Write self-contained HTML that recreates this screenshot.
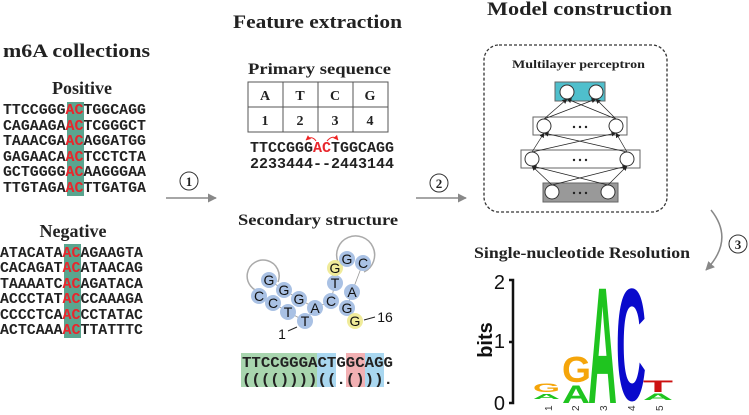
<!DOCTYPE html>
<html><head><meta charset="utf-8"><style>
html,body{margin:0;padding:0;background:#fff;overflow:hidden;width:749px;height:415px}
svg{display:block}
.ti{font-family:"Liberation Serif",serif;font-weight:bold;fill:#222}
.mono{font-family:"Liberation Mono",monospace;font-weight:bold;fill:#222}
.nd{fill:#a9c1e4}
.nl{font-family:"Liberation Sans",sans-serif;font-size:14px;fill:#111;text-anchor:middle}
</style></head><body>
<svg width="749" height="415" viewBox="0 0 749 415" xmlns="http://www.w3.org/2000/svg" overflow="hidden">
<defs>
<marker id="ah" viewBox="0 0 10 10" refX="9" refY="5" markerWidth="9" markerHeight="9" markerUnits="userSpaceOnUse" orient="auto"><path d="M0,0 L10,5 L0,10 z" fill="#888"/></marker>
<marker id="sa" viewBox="0 0 10 10" refX="9" refY="5" markerWidth="5" markerHeight="5" markerUnits="userSpaceOnUse" orient="auto"><path d="M0,0 L10,5 L0,10 z" fill="#222"/></marker>
<marker id="ra" viewBox="0 0 10 10" refX="9" refY="5" markerWidth="5" markerHeight="5" markerUnits="userSpaceOnUse" orient="auto"><path d="M0,0 L10,5 L0,10 z" fill="#e22"/></marker>
</defs>

<text class="ti" x="3" y="57" font-size="19" textLength="147" lengthAdjust="spacingAndGlyphs">m6A collections</text>
<text class="ti" x="233" y="28" font-size="19" textLength="169" lengthAdjust="spacingAndGlyphs">Feature extraction</text>
<text class="ti" x="487" y="15" font-size="19" textLength="185" lengthAdjust="spacingAndGlyphs">Model construction</text>
<text class="ti" x="82" y="94" font-size="18" text-anchor="middle">Positive</text>
<text class="ti" x="73" y="237" font-size="18" text-anchor="middle">Negative</text>
<text class="ti" x="248" y="74" font-size="16" textLength="143" lengthAdjust="spacingAndGlyphs">Primary sequence</text>
<text class="ti" x="238" y="225" font-size="16" textLength="160" lengthAdjust="spacingAndGlyphs">Secondary structure</text>
<text class="ti" x="474" y="258" font-size="16" textLength="216" lengthAdjust="spacingAndGlyphs">Single-nucleotide Resolution</text>

<rect x="67" y="102" width="17" height="94" fill="#5aa58f"/>
<rect x="64" y="244" width="17" height="94" fill="#5aa58f"/>
<g class="mono" font-size="15">
<text x="3" y="114" textLength="143" lengthAdjust="spacingAndGlyphs">TTCCGGG<tspan fill="#e8262c">AC</tspan>TGGCAGG</text>
<text x="3" y="130" textLength="143" lengthAdjust="spacingAndGlyphs">CAGAAGA<tspan fill="#e8262c">AC</tspan>TCGGGCT</text>
<text x="3" y="145" textLength="143" lengthAdjust="spacingAndGlyphs">TAAACGA<tspan fill="#e8262c">AC</tspan>AGGATGG</text>
<text x="3" y="161" textLength="143" lengthAdjust="spacingAndGlyphs">GAGAACA<tspan fill="#e8262c">AC</tspan>TCCTCTA</text>
<text x="3" y="176" textLength="143" lengthAdjust="spacingAndGlyphs">GCTGGGG<tspan fill="#e8262c">AC</tspan>AAGGGAA</text>
<text x="3" y="192" textLength="143" lengthAdjust="spacingAndGlyphs">TTGTAGA<tspan fill="#e8262c">AC</tspan>TTGATGA</text>
<text x="0" y="257" textLength="143" lengthAdjust="spacingAndGlyphs">ATACATA<tspan fill="#e8262c">AC</tspan>AGAAGTA</text>
<text x="0" y="272" textLength="143" lengthAdjust="spacingAndGlyphs">CACAGAT<tspan fill="#e8262c">AC</tspan>ATAACAG</text>
<text x="0" y="288" textLength="143" lengthAdjust="spacingAndGlyphs">TAAAATC<tspan fill="#e8262c">AC</tspan>AGATACA</text>
<text x="0" y="303" textLength="143" lengthAdjust="spacingAndGlyphs">ACCCTAT<tspan fill="#e8262c">AC</tspan>CCAAAGA</text>
<text x="0" y="319" textLength="143" lengthAdjust="spacingAndGlyphs">CCCCTCA<tspan fill="#e8262c">AC</tspan>CCTATAC</text>
<text x="0" y="334" textLength="143" lengthAdjust="spacingAndGlyphs">ACTCAAA<tspan fill="#e8262c">AC</tspan>TTATTTC</text>
</g>

<line x1="166" y1="198" x2="216" y2="198" stroke="#888" stroke-width="1.5" marker-end="url(#ah)"/>
<circle cx="189" cy="181" r="9" fill="#fff" stroke="#333"/>
<text class="ti" x="189" y="186" font-size="13" text-anchor="middle">1</text>
<line x1="416" y1="198" x2="466" y2="198" stroke="#888" stroke-width="1.5" marker-end="url(#ah)"/>
<circle cx="439" cy="183" r="9" fill="#fff" stroke="#333"/>
<text class="ti" x="439" y="188" font-size="13" text-anchor="middle">2</text>
<path d="M711,210 Q735,240 706,270" fill="none" stroke="#888" stroke-width="1.5" marker-end="url(#ah)"/>
<circle cx="738" cy="244" r="9" fill="#fff" stroke="#333"/>
<text class="ti" x="738" y="249" font-size="13" text-anchor="middle">3</text>

<g stroke="#555" fill="none" stroke-width="1">
<rect x="248" y="82" width="140" height="50"/>
<line x1="248" y1="107" x2="388" y2="107"/>
<line x1="283" y1="82" x2="283" y2="132"/><line x1="318" y1="82" x2="318" y2="132"/><line x1="353" y1="82" x2="353" y2="132"/>
</g>
<g class="ti" font-size="14" text-anchor="middle">
<text x="265" y="100">A</text><text x="300" y="100">T</text><text x="335" y="100">C</text><text x="370" y="100">G</text>
<text x="265" y="125">1</text><text x="300" y="125">2</text><text x="335" y="125">3</text><text x="370" y="125">4</text>
</g>
<path d="M316,141 Q312,135 306,140" fill="none" stroke="#e22" marker-end="url(#ra)"/>
<path d="M327,141 Q333,134 338,140" fill="none" stroke="#e22" marker-end="url(#ra)"/>
<g class="mono" font-size="15">
<text x="250" y="152" textLength="144" lengthAdjust="spacingAndGlyphs">TTCCGGG<tspan fill="#e8262c">AC</tspan>TGGCAGG</text>
<text x="250" y="168" textLength="144" lengthAdjust="spacingAndGlyphs">2233444--2443144</text>
</g>

<g fill="none" stroke="#aaa" stroke-width="1.5">
<path d="M262,292 A16,16 0 1 1 278,282"/>
<path d="M338,262 A19,19 0 1 1 364,272"/>
</g>
<g stroke="#999" stroke-width="0.8">
<line x1="269" y1="280" x2="284" y2="290"/><line x1="284" y1="290" x2="299" y2="299"/><line x1="299" y1="299" x2="315" y2="308"/><line x1="315" y1="308" x2="331" y2="301"/><line x1="331" y1="301" x2="335" y2="283"/><line x1="335" y1="283" x2="335" y2="268"/><line x1="363" y1="263" x2="352" y2="292"/><line x1="352" y1="292" x2="347" y2="308"/><line x1="347" y1="308" x2="355" y2="321"/><line x1="259" y1="296" x2="273" y2="303"/><line x1="273" y1="303" x2="288" y2="312"/><line x1="288" y1="312" x2="305" y2="321"/><line x1="305" y1="321" x2="315" y2="308"/>
</g>
<g>
<circle class="nd" cx="269" cy="280" r="8"/><circle class="nd" cx="259" cy="296" r="8"/><circle class="nd" cx="284" cy="290" r="8"/><circle class="nd" cx="273" cy="303" r="8"/><circle class="nd" cx="299" cy="299" r="8"/><circle class="nd" cx="288" cy="312" r="8"/><circle class="nd" cx="315" cy="308" r="8"/><circle class="nd" cx="305" cy="321" r="8"/><circle class="nd" cx="331" cy="301" r="8"/><circle class="nd" cx="335" cy="283" r="8"/><circle class="nd" cx="352" cy="292" r="8"/><circle cx="335" cy="268" r="8" fill="#f0eb9a"/><circle class="nd" cx="347" cy="259" r="8"/><circle class="nd" cx="363" cy="263" r="8"/><circle class="nd" cx="347" cy="308" r="8"/><circle cx="355" cy="321" r="8" fill="#f0eb9a"/>
</g>
<g class="nl">
<text x="269" y="285">G</text><text x="259" y="301">C</text><text x="284" y="295">G</text><text x="273" y="308">C</text><text x="299" y="304">G</text><text x="288" y="317">T</text><text x="315" y="313">A</text><text x="305" y="326">T</text><text x="331" y="306">C</text><text x="335" y="288">T</text><text x="352" y="297">A</text><text x="335" y="273">G</text><text x="347" y="264">G</text><text x="363" y="268">C</text><text x="347" y="313">G</text><text x="355" y="326">G</text>
<text x="282" y="339">1</text><text x="385" y="322">16</text>
</g>
<line x1="288" y1="331" x2="297" y2="327" stroke="#222"/>
<line x1="364" y1="320" x2="375" y2="317" stroke="#222"/>

<rect x="241" y="353" width="76" height="34" fill="#a8d5ae"/>
<rect x="317" y="353" width="19" height="34" fill="#a9d7f0"/>
<rect x="346" y="353" width="19" height="34" fill="#f2b0b3"/>
<rect x="365" y="353" width="19" height="34" fill="#a9d7f0"/>
<g class="mono" font-size="15">
<text x="242" y="367" textLength="151" lengthAdjust="spacingAndGlyphs">TTCCGGGACTGGCAGG</text>
<text x="242" y="384" textLength="151" lengthAdjust="spacingAndGlyphs">(((())))((.())).</text>
</g>

<rect x="484" y="45" width="183" height="167" rx="15" fill="none" stroke="#333" stroke-width="1.3" stroke-dasharray="3,2"/>
<text class="ti" x="512" y="68" font-size="12" textLength="133" lengthAdjust="spacingAndGlyphs">Multilayer perceptron</text>
<rect x="555" y="82" width="50" height="19" fill="#4fbfcc" stroke="#666"/>
<rect x="533" y="117" width="94" height="18" fill="#fff" stroke="#666"/>
<rect x="521" y="150" width="119" height="18" fill="#fff" stroke="#666"/>
<rect x="543" y="183" width="75" height="19" fill="#999" stroke="#666"/>
<g stroke="#222" stroke-width="0.7" marker-end="url(#sa)">
<line x1="552" y1="185" x2="532" y2="166"/><line x1="552" y1="185" x2="627" y2="166"/><line x1="608" y1="185" x2="532" y2="166"/><line x1="608" y1="185" x2="627" y2="166"/>
<line x1="532" y1="152" x2="544" y2="133"/><line x1="532" y1="152" x2="616" y2="133"/><line x1="627" y1="152" x2="544" y2="133"/><line x1="627" y1="152" x2="616" y2="133"/>
<line x1="544" y1="119" x2="567" y2="99"/><line x1="544" y1="119" x2="596" y2="99"/><line x1="616" y1="119" x2="567" y2="99"/><line x1="616" y1="119" x2="596" y2="99"/>
</g>
<g fill="#fff" stroke="#333">
<circle cx="567" cy="92" r="7"/><circle cx="596" cy="92" r="7"/>
<circle cx="544" cy="126" r="7"/><circle cx="616" cy="126" r="7"/>
<circle cx="532" cy="159" r="7"/><circle cx="627" cy="159" r="7"/>
<circle cx="552" cy="192" r="7"/><circle cx="608" cy="192" r="7"/>
</g>
<g fill="#222"><circle cx="574" cy="127" r="1.2"/><circle cx="580" cy="127" r="1.2"/><circle cx="586" cy="127" r="1.2"/>
<circle cx="574" cy="160" r="1.2"/><circle cx="580" cy="160" r="1.2"/><circle cx="586" cy="160" r="1.2"/>
<circle cx="574" cy="193" r="1.2"/><circle cx="580" cy="193" r="1.2"/><circle cx="586" cy="193" r="1.2"/></g>

<g font-family="Liberation Sans,sans-serif" fill="#111">
<text x="505" y="289" font-size="20" text-anchor="end">2</text>
<text x="505" y="348" font-size="20" text-anchor="end">1</text>
<text x="505" y="410" font-size="20" text-anchor="end">0</text>
<text transform="translate(492,340) rotate(-90)" font-size="20" font-weight="bold" text-anchor="middle">bits</text>
</g>
<path d="M509,280 H513 V403 H509 M509,342 H513" fill="none" stroke="#111" stroke-width="2.5"/>
<svg x="520" y="270" width="170" height="135" viewBox="520 270 170 135" overflow="hidden">
<g font-family="Liberation Sans,sans-serif" font-weight="bold" font-size="100">
<text transform="translate(588,403) scale(1,1.66)" fill="#1fc41f" textLength="29" lengthAdjust="spacingAndGlyphs">A</text>
<text transform="translate(616,400) scale(1,1.60)" fill="#0a0acc" textLength="30" lengthAdjust="spacingAndGlyphs">C</text>
<text transform="translate(562,382) scale(1,0.36)" fill="#f5a50a" textLength="29" lengthAdjust="spacingAndGlyphs">G</text>
<text transform="translate(562,403) scale(1,0.25)" fill="#1fc41f" textLength="28" lengthAdjust="spacingAndGlyphs">A</text>
<text transform="translate(533,392) scale(1,0.12)" fill="#f5a50a" textLength="27" lengthAdjust="spacingAndGlyphs">G</text>
<text transform="translate(533,399) scale(1,0.07)" fill="#1fc41f" textLength="27" lengthAdjust="spacingAndGlyphs">A</text>
<text transform="translate(643,392) scale(1,0.17)" fill="#cc1010" textLength="30" lengthAdjust="spacingAndGlyphs">T</text>
<text transform="translate(643,400) scale(1,0.09)" fill="#1fc41f" textLength="30" lengthAdjust="spacingAndGlyphs">A</text>
</g>
</svg>
<g font-family="Liberation Sans,sans-serif" font-size="10" fill="#333">
<text transform="translate(552,411) rotate(-90)">1</text>
<text transform="translate(579,411) rotate(-90)">2</text>
<text transform="translate(607,411) rotate(-90)">3</text>
<text transform="translate(635,411) rotate(-90)">4</text>
<text transform="translate(663,411) rotate(-90)">5</text>
</g>
</svg>
</body></html>
